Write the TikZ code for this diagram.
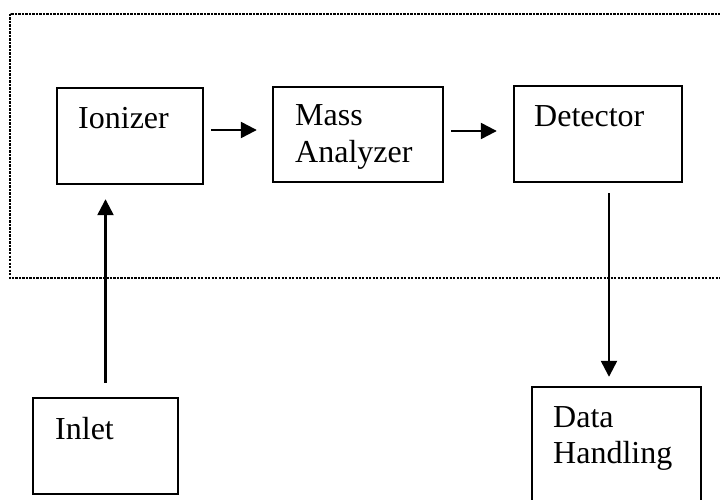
\documentclass[tikz,border=0pt]{standalone}
\usepackage{fontspec}
\setmainfont{Liberation Serif}
\usetikzlibrary{arrows.meta}
\begin{document}
\begin{tikzpicture}[x=1pt,y=-1pt,
  box/.style={draw=black,line width=2.4pt,rectangle,inner sep=0pt},
  lbl/.style={anchor=base west,inner sep=0pt,font=\fontsize{32}{37}\selectfont},
  arr/.style={draw=black,line width=2.4pt,-{Triangle[length=16pt,width=16pt]}},
  frame/.style={draw=black,line width=2.4pt,dash pattern=on 2.2pt off 1.3pt}]
\useasboundingbox (0,0) rectangle (720,500);
\clip (0,0) rectangle (720,500);
\fill[white] (0,0) rectangle (720,500);
% dotted enclosure
\draw[frame] (10,14) rectangle (740,278);
% boxes
\node[box,minimum width=146pt,minimum height=96pt] (ion) at (130,136) {};
\node[box,minimum width=170pt,minimum height=95pt] (mass) at (358,134.5) {};
\node[box,minimum width=168pt,minimum height=96pt] (det) at (598,134) {};
\node[box,minimum width=145pt,minimum height=96pt] (inl) at (105.5,446) {};
\node[box,minimum width=169pt,minimum height=133pt] (data) at (616.5,453.5) {};
% labels
\node[lbl] (t-ion) at (78,129) {Ionizer};
\node[lbl] (t-mass1) at (295,125) {Mass};
\node[lbl] (t-mass2) at (295,163) {Analyzer};
\node[lbl] (t-det) at (534,127) {Detector};
\node[lbl] (t-inl) at (55,439) {Inlet};
\node[lbl] (t-data1) at (553,427) {Data};
\node[lbl] (t-data2) at (553,463) {Handling};
% connectors
\draw[arr] ([xshift=7pt]ion.east |- 0,130) -- ([xshift=-15pt]mass.west |- 0,130);
\draw[arr] ([xshift=7pt]mass.east |- 0,131) -- ([xshift=-16pt]det.west |- 0,131);
\draw[arr] ([yshift=14pt]inl.north) -- ([yshift=-14pt]inl.north |- ion.south);
\draw[arr] ([xshift=11pt,yshift=-10pt]det.south) -- ([xshift=11pt,yshift=9pt]det.south |- data.north);
\end{tikzpicture}
\end{document}
